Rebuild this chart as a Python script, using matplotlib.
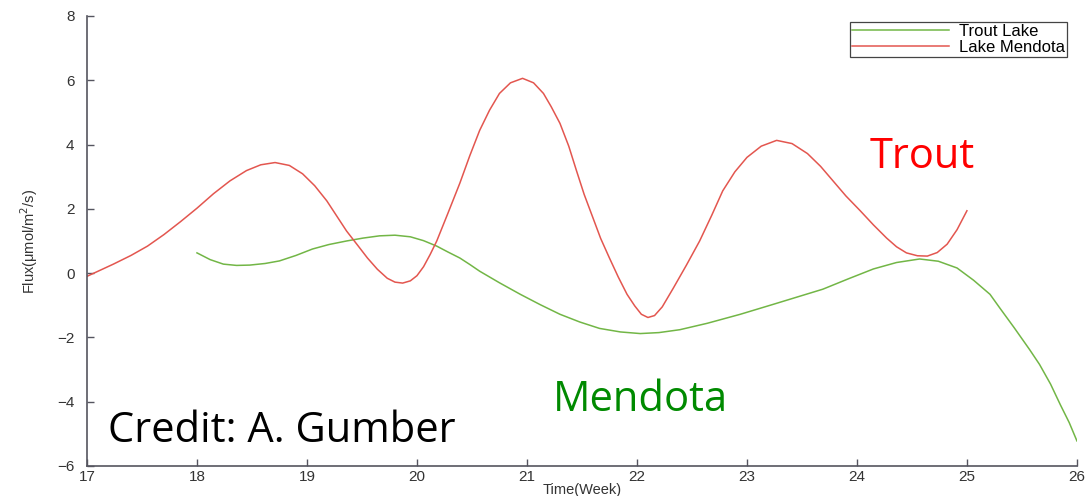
import matplotlib
matplotlib.use("Agg")
import matplotlib.pyplot as plt

# weekly flux readings, Trout Lake (green) and Lake Mendota (red)
trout_week = [18.0, 18.12, 18.24, 18.36, 18.48, 18.62, 18.75, 18.9, 19.05, 19.2,
              19.36, 19.51, 19.66, 19.8, 19.94, 20.06, 20.18, 20.28, 20.39, 20.48,
              20.57, 20.75, 20.94, 21.12, 21.3, 21.48, 21.66, 21.85, 22.03, 22.2,
              22.39, 22.64, 22.94, 23.24, 23.46, 23.69, 23.92, 24.15, 24.36, 24.57,
              24.74, 24.91, 25.06, 25.21, 25.3, 25.43, 25.57, 25.66, 25.76, 25.85,
              25.93, 26.0]
trout_flux = [0.63, 0.42, 0.28, 0.24, 0.25, 0.3, 0.38, 0.55, 0.75, 0.89,
              1.0, 1.09, 1.16, 1.18, 1.13, 1.01, 0.84, 0.66, 0.47, 0.27,
              0.06, -0.3, -0.66, -0.98, -1.28, -1.52, -1.72, -1.83, -1.88, -1.85,
              -1.76, -1.56, -1.28, -0.97, -0.74, -0.5, -0.18, 0.13, 0.33, 0.44,
              0.37, 0.16, -0.22, -0.66, -1.09, -1.7, -2.38, -2.84, -3.45, -4.1,
              -4.65, -5.22]

mendota_week = [17.0, 17.24, 17.4, 17.55, 17.7, 17.85, 18.0, 18.15, 18.3, 18.45,
                18.58, 18.71, 18.84, 18.96, 19.07, 19.18, 19.27, 19.36, 19.46, 19.55,
                19.64, 19.73, 19.8, 19.87, 19.94, 20.0, 20.06, 20.12, 20.18, 20.28,
                20.39, 20.48, 20.57, 20.66, 20.75, 20.85, 20.96, 21.06, 21.15, 21.22,
                21.3, 21.38, 21.45, 21.52, 21.6, 21.67, 21.75, 21.83, 21.91, 21.98,
                22.04, 22.1, 22.16, 22.23, 22.33, 22.45, 22.57, 22.68, 22.78, 22.89,
                23.0, 23.13, 23.27, 23.41, 23.55, 23.67, 23.78, 23.9, 24.03, 24.15,
                24.27, 24.36, 24.45, 24.55, 24.64, 24.73, 24.82, 24.91, 25.0]
mendota_flux = [-0.1, 0.28, 0.55, 0.84, 1.2, 1.6, 2.02, 2.47, 2.87, 3.19,
                3.37, 3.44, 3.35, 3.09, 2.72, 2.25, 1.78, 1.31, 0.87, 0.47,
                0.12, -0.16, -0.28, -0.31, -0.24, -0.08, 0.2, 0.58, 1.0, 1.85,
                2.8, 3.65, 4.44, 5.07, 5.59, 5.92, 6.06, 5.92, 5.59, 5.18,
                4.66, 3.95, 3.19, 2.45, 1.72, 1.08, 0.47, -0.12, -0.66, -1.02,
                -1.28, -1.38, -1.32, -1.05, -0.47, 0.25, 1.0, 1.8, 2.56, 3.15,
                3.6, 3.95, 4.13, 4.03, 3.72, 3.32, 2.88, 2.4, 1.94, 1.5,
                1.09, 0.82, 0.63, 0.54, 0.53, 0.64, 0.9, 1.35, 1.94]

x_ticks = list(range(17, 27))
y_ticks = [-6, -4, -2, 0, 2, 4, 6, 8]
y_tick_labels = ["\u22126", "\u22124", "\u22122", "0", "2", "4", "6", "8"]

fig = plt.figure(figsize=(10.9, 4.96), dpi=100)
ax = fig.add_axes([0.0798, 0.0605, 0.9082, 0.9073])

ax.plot(trout_week, trout_flux, color="#72b646", linewidth=1.1, label="Trout Lake")
ax.plot(mendota_week, mendota_flux, color="#e3564f", linewidth=1.1, label="Lake Mendota")

ax.set_xlim(17, 26)
ax.set_ylim(-6, 8)
ax.set_xticks(x_ticks)
ax.set_yticks(y_ticks)
ax.set_yticklabels(y_tick_labels)

for side in ["top", "right"]:
    ax.spines[side].set_visible(False)
for side in ["left", "bottom"]:
    ax.spines[side].set_color("#55555f")
    ax.spines[side].set_linewidth(1.2)

ax.tick_params(direction="in", length=5, width=1, color="#55555f",
               labelsize=11, labelcolor="#333333")
ax.tick_params(axis="x", pad=3)
ax.tick_params(axis="y", pad=9)
for lbl in ax.get_xticklabels() + ax.get_yticklabels():
    lbl.set_family("Liberation Sans")

ax.set_xlabel("Time(Week)", fontsize=10.5, family="Liberation Sans", color="#333333",
              labelpad=-1)
ax.set_ylabel("Flux(\u03bcmol/m$^2$/s)", fontsize=10.5, family="Liberation Sans",
              color="#333333", labelpad=12)

leg = ax.legend(loc="upper right", bbox_to_anchor=(0.99, 0.987),
                prop={"family": "Liberation Sans", "size": 12},
                fancybox=False, framealpha=1, edgecolor="#444444",
                handlelength=5.8, borderpad=0.12, labelspacing=0.05,
                handletextpad=0.6, borderaxespad=0)
leg.get_frame().set_linewidth(0.9)

ax.text(24.59, 3.6, "Trout", color="#ff0000", fontsize=30, family="Open Sans",
        ha="center", va="center")
ax.text(22.03, -3.95, "Mendota", color="#008a00", fontsize=30, family="Open Sans",
        ha="center", va="center")
ax.text(17.19, -4.9, "Credit: A. Gumber", color="black", fontsize=30, family="Open Sans",
        ha="left", va="center")

fig.savefig("out.png", dpi=100)
